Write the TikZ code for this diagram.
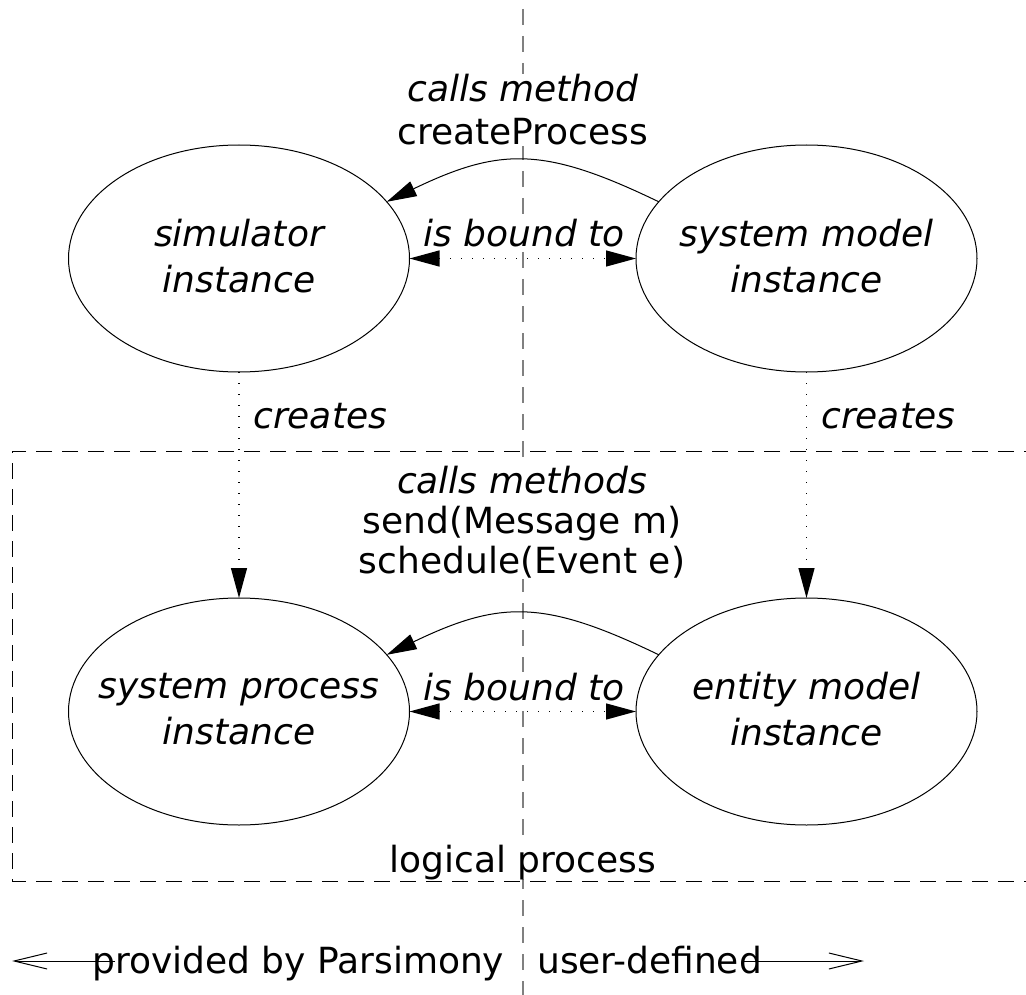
\documentclass[tikz,border=0pt]{standalone}
\usepackage{fontspec}
\setmainfont{DejaVu Sans}
\usetikzlibrary{arrows.meta,shapes.geometric}
\begin{document}
\begin{tikzpicture}[x=1pt,y=-1pt,
  every node/.style={font=\fontsize{36}{46}\selectfont},
  ell/.style={draw, line width=1pt, ellipse, minimum width=341pt, minimum height=227pt, inner sep=0pt, outer sep=0pt},
  lbl/.style={fill=white, inner sep=1pt, align=center},
  itl/.style={font=\fontsize{36}{46}\selectfont\itshape, align=center, inner sep=0pt},
  divider/.style={draw=black!50, line width=1.6pt, dash pattern=on 16pt off 11pt},
  frame/.style={draw=black, line width=1pt, dash pattern=on 16pt off 10pt},
  tri/.style={line width=1pt, -{Triangle[length=30pt,width=16pt]}},
  dotarrow/.style={line width=1.3pt, dash pattern=on 1.3pt off 9.7pt},
  barb/.style={line width=1pt, -{Straight Barb[length=33pt,width=16pt]}}
]
\useasboundingbox (0,0) rectangle (1026,995);
% divider
\coordinate (divtop) at (522.7,-18);
\coordinate (divbot) at (522.7,1010);
\draw[divider] (divtop) -- (divbot);

% labels with white backgrounds
\node[lbl, font=\fontsize{36}{43}\selectfont] (callm) at (523,110) {{\itshape calls method}\\createProcess};
\node[lbl, font=\fontsize{36}{40}\selectfont] (callms) at (522,522) {{\itshape calls methods}\\send(Message m)\\schedule(Event e)};
\node[lbl, anchor=base, font=\fontsize{36}{46}\selectfont\itshape] (bound1) at (524,247) {is bound to};
\node[lbl, anchor=base, font=\fontsize{36}{46}\selectfont\itshape] (bound2) at (524,700) {is bound to};
\node[lbl, anchor=base west, font=\fontsize{36}{46}\selectfont\itshape] (cr1) at (252,428) {creates};
\node[lbl, anchor=base west, font=\fontsize{36}{46}\selectfont\itshape] (cr2) at (820,428) {creates};
\node[lbl, anchor=base, inner sep=0pt] (lp) at (523,872) {logical process};

% frame
\coordinate (ftr) at (1040,451);
\coordinate (fbl) at (12,881);
\coordinate (fbr) at (1040,881);
\draw[frame] (ftr) -| (fbl) -- (fbr);

% ellipses
\node[ell] (sim) at (239,258.5) {};
\node[ell] (sm) at (806.5,258.5) {};
\node[ell] (sp) at (239,711.5) {};
\node[ell] (em) at (806.5,711.5) {};
\node[itl] (simt) at (239,256.5) {simulator\\instance};
\node[itl] (smt) at (806.5,256.5) {system model\\instance};
\node[itl] (spt) at (239,709) {system process\\instance};
\node[itl] (emt) at (806.5,709) {entity model\\instance};

% connectors
\draw[tri] (sm.159) .. controls +(-114,-55) and +(114,-55) .. (sim.21);
\draw[tri] (em.159) .. controls +(-114,-55) and +(114,-55) .. (sp.21);
\draw[dotarrow, {Triangle[length=30pt,width=16pt]}-{Triangle[length=30pt,width=16pt]}] (sim.east) -- (sm.west);
\draw[dotarrow, {Triangle[length=30pt,width=16pt]}-{Triangle[length=30pt,width=16pt]}] (sp.east) -- (em.west);
\draw[dotarrow, -{Triangle[length=30pt,width=16pt]}] (sim.south) -- (sp.north);
\draw[dotarrow, -{Triangle[length=30pt,width=16pt]}] (sm.south) -- (em.north);

% bottom legend
\node[anchor=base west, inner sep=0pt] (prov) at (92,973) {provided by Parsimony};
\node[anchor=base west, inner sep=0pt] (user) at (537,973) {user-defined};
\coordinate (lt) at (12,961);
\coordinate (rt) at (864,961);
\draw[barb] ([xshift=23pt,yshift=12pt]prov.base west) -- (lt);
\draw[barb] ([xshift=-18pt,yshift=12pt]user.base east) -- (rt);
\end{tikzpicture}
\end{document}
